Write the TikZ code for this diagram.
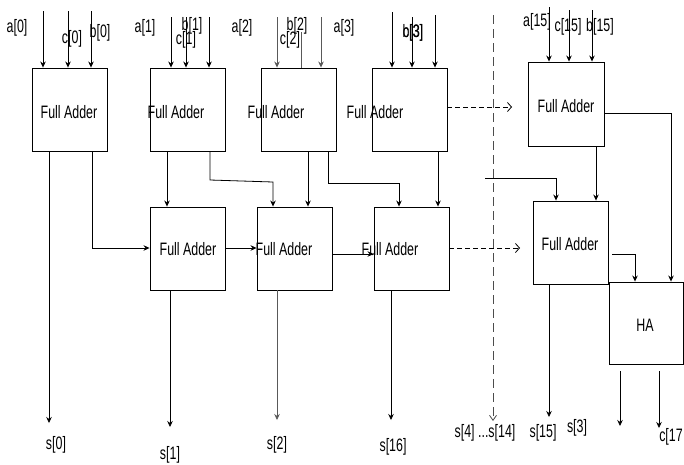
\documentclass[tikz,border=0pt]{standalone}
\usepackage{fontspec}
\setmainfont{Liberation Sans}[FakeStretch=0.69]
\usetikzlibrary{arrows.meta}
\begin{document}
\begin{tikzpicture}[x=1pt,y=-1pt,
  box/.style={draw, line width=0.9pt, inner sep=0pt, minimum width=75pt, minimum height=83pt},
  lbl/.style={inner sep=0pt, font=\fontsize{18}{18}\selectfont},
  wire/.style={line width=0.8pt},
  gwire/.style={line width=0.8pt, draw=black!65},
  arr/.style={wire, -{Stealth[length=6pt,width=5.5pt]}},
  garr/.style={gwire, -{Stealth[length=6pt,width=5.5pt]}},
  darr/.style={wire, dash pattern=on 5pt off 3pt, -{Straight Barb[length=4pt,width=9pt]}},
  vdarr/.style={wire, draw=black!70, dash pattern=on 9pt off 5pt, -{Straight Barb[length=5pt,width=7pt]}},
]
\useasboundingbox (0,0) rectangle (684,464);

% ---------- boxes ----------
\node[box] (fa0)  at (69.5,109.5) {};
\node[box] (fa1)  at (187.5,109.5) {};
\node[box] (fa2)  at (298.5,109.5) {};
\node[box] (fa3)  at (409.5,109.5) {};
\node[box, minimum width=76pt, minimum height=84pt] (fa15) at (566,104) {};
\node[box] (m1)  at (187.5,248.5) {};
\node[box] (m2)  at (294.5,248.5) {};
\node[box] (m3)  at (411.5,248.5) {};
\node[box] (m15) at (570.5,242.5) {};
\node[box, minimum width=74pt, minimum height=82pt] (ha) at (646,323) {};

% ---------- box texts ----------
\node[lbl] (fa0t)  at (69,112)  {Full Adder};
\node[lbl] (fa1t)  at (176,112) {Full Adder};
\node[lbl] (fa2t)  at (276,112) {Full Adder};
\node[lbl] (fa3t)  at (375,112) {Full Adder};
\node[lbl] (fa15t) at (566,106) {Full Adder};
\node[lbl] (m1t)   at (188,249) {Full Adder};
\node[lbl] (m2t)   at (284,249) {Full Adder};
\node[lbl] (m3t)   at (390,249) {Full Adder};
\node[lbl] (m15t)  at (570,244) {Full Adder};
\node[lbl] (hat)   at (645,325) {HA};

% ---------- top labels ----------
\node[lbl] (la0) at (17,28) {a[0]};
\node[lbl] (lc0) at (72,39) {c[0]};
\node[lbl] (lb0) at (100,33) {b[0]};
\node[lbl] (la1) at (145,28) {a[1]};
\node[lbl] (lb1) at (192,26) {b[1]};
\node[lbl] (lc1) at (186,40) {c[1]};
\node[lbl] (la2) at (242,28) {a[2]};
\node[lbl] (lb2) at (297,26) {b[2]};
\node[lbl] (lc2) at (290,40) {c[2]};
\node[lbl] (la3) at (344,28) {a[3]};
\node[lbl] (lb3) at (413,33) {b[3]};
\node[lbl] (lc3) at (413,33) {c[3]};
\node[lbl] (la15) at (537,22) {a[15]};
\node[lbl] (lc15) at (568,27) {c[15]};
\node[lbl] (lb15) at (600,27) {b[15]};

% ---------- bottom labels ----------
\node[lbl] (s0)  at (56,445)  {s[0]};
\node[lbl] (s1)  at (170,455) {s[1]};
\node[lbl] (s2)  at (277,445) {s[2]};
\node[lbl] (s16) at (393,447) {s[16]};
\node[lbl] (s4)  at (485,433) {s[4] ...s[14]};
\node[lbl] (s15) at (543,433) {s[15]};
\node[lbl] (s3)  at (577,428) {s[3]};
\node[lbl] (c17) at (671,437) {c[17};

% ---------- input coordinates ----------
\coordinate (ia0) at (43,11);  \coordinate (ic0) at (68,11);  \coordinate (ib0) at (91,11);
\coordinate (ia1) at (171,17); \coordinate (ic1) at (186,17); \coordinate (ib1) at (209,17);
\coordinate (ia2) at (277,17); \coordinate (ic2) at (301,32); \coordinate (ib2) at (321,17);
\coordinate (ia3) at (392,12); \coordinate (ic3) at (412,17); \coordinate (ib3) at (435,15);
\coordinate (ia15) at (549,7); \coordinate (ic15) at (569,10); \coordinate (ib15) at (592,10);

\draw[arr] (ia0) -- (ia0 |- fa0.north);
\draw[arr] (ic0) -- (ic0 |- fa0.north);
\draw[arr] (ib0) -- (ib0 |- fa0.north);
\draw[arr] (ia1) -- (ia1 |- fa1.north);
\draw[arr] (ic1) -- (ic1 |- fa1.north);
\draw[arr] (ib1) -- (ib1 |- fa1.north);
\draw[garr] (ia2) -- (ia2 |- fa2.north);
\draw[gwire] (ic2) -- (ic2 |- fa2.north);
\draw[garr] (ib2) -- (ib2 |- fa2.north);
\draw[arr] (ia3) -- (ia3 |- fa3.north);
\draw[arr] (ic3) -- (ic3 |- fa3.north);
\draw[arr] (ib3) -- (ib3 |- fa3.north);
\draw[arr] (ia15) -- (ia15 |- fa15.north);
\draw[arr] (ic15) -- (ic15 |- fa15.north);
\draw[arr] (ib15) -- (ib15 |- fa15.north);

% ---------- internal wiring ----------
\coordinate (x92) at (92,248);
\draw[arr] (fa0.south -| x92) -- (x92) -- (x92 -| m1.west);
\coordinate (s0tip) at (49,423);
\draw[arr] (fa0.south -| s0tip) -- (s0tip);

\coordinate (x167) at (167,0);
\draw[arr] (fa1.south -| x167) -- (m1.north -| x167);
\coordinate (k1) at (210,180); \coordinate (k2) at (273,182);
\draw[arr] (fa1.south -| k1) -- (k1) -- (k2) -- (m2.north -| k2);
\coordinate (y248) at (0,248);
\draw[arr] (m1.east |- y248) -- (m2.west |- y248);
\coordinate (s1tip) at (170,427);
\draw[arr] (m1.south -| s1tip) -- (s1tip);

\coordinate (x308) at (308,0);
\draw[arr] (fa2.south -| x308) -- (m2.north -| x308);
\coordinate (k3) at (328,183); \coordinate (k4) at (399,183);
\draw[arr] (fa2.south -| k3) -- (k3) -- (k4) -- (m3.north -| k4);
\coordinate (y254) at (0,254);
\draw[arr] (m2.east |- y254) -- (m3.west |- y254);
\coordinate (s2tip) at (277,420);
\draw[garr] (m2.south -| s2tip) -- (s2tip);

\coordinate (x438) at (438,0);
\draw[arr] (fa3.south -| x438) -- (m3.north -| x438);
\coordinate (d1) at (512,107);
\draw[darr] (fa3.east |- d1) -- (d1);
\coordinate (d2) at (520,248);
\draw[darr] (m3.east |- d2) -- (d2);
\coordinate (s16tip) at (391,420);
\draw[arr] (m3.south -| s16tip) -- (s16tip);

% dashed separator
\coordinate (vtop) at (493,15);
\coordinate (vbot) at (493,421);
\draw[vdarr] (vtop) -- (vbot);

% carry into last stage
\coordinate (cin) at (485,178); \coordinate (k5) at (556,178);
\draw[arr] (cin) -- (k5) -- (m15.north -| k5);
\coordinate (x596) at (596,0);
\draw[arr] (fa15.south -| x596) -- (m15.north -| x596);
\coordinate (k6) at (671,113);
\draw[arr] (fa15.east |- k6) -- (k6) -- (ha.north -| k6);
\coordinate (k7a) at (612,254); \coordinate (k7) at (635,254);
\draw[arr] (k7a) -- (k7) -- (ha.north -| k7);
\coordinate (s15tip) at (549,417);
\draw[arr] (m15.south -| s15tip) -- (s15tip);

% HA outputs
\coordinate (h1s) at (620,371); \coordinate (h1e) at (620,426);
\coordinate (h2s) at (659,371); \coordinate (h2e) at (659,428);
\draw[arr] (h1s) -- (h1e);
\draw[arr] (h2s) -- (h2e);
\end{tikzpicture}
\end{document}
